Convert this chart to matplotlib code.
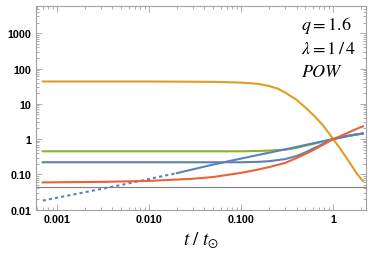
import matplotlib
matplotlib.use("Agg")
import matplotlib.pyplot as plt
from matplotlib.ticker import FixedLocator, LogLocator, NullFormatter

plt.rcParams['mathtext.fontset'] = 'stix'

# ---- data ----
t_orange = [0.0007, 0.01, 0.05, 0.1, 0.15, 0.2, 0.25, 0.3, 0.4, 0.5, 0.6, 0.7, 0.8, 0.9, 1.0, 1.2, 1.4, 1.6, 1.8, 2.1]
orange = [43, 43, 42, 40, 37, 32, 27, 21, 13, 7.8, 5.0, 3.3, 2.2, 1.45, 1.0, 0.52, 0.29, 0.17, 0.105, 0.065]

t_green = [0.0007, 0.1, 0.15, 0.2, 0.3, 0.4, 0.5, 0.6, 0.7, 0.8, 0.9, 1.0, 1.2, 1.4, 1.6, 1.8, 2.1]
green = [0.45, 0.45, 0.46, 0.47, 0.50, 0.56, 0.65, 0.72, 0.80, 0.87, 0.94, 1.0, 1.1, 1.2, 1.28, 1.35, 1.43]

t_blue = [0.0007, 0.1, 0.15, 0.2, 0.3, 0.4, 0.5, 0.6, 0.7, 0.8, 0.9, 1.0, 1.2, 1.4, 1.6, 1.8, 2.1]
blue = [0.22, 0.22, 0.225, 0.235, 0.27, 0.33, 0.42, 0.53, 0.64, 0.76, 0.88, 1.0, 1.12, 1.22, 1.3, 1.36, 1.43]

t_pow_dot = [0.0007, 0.002, 0.005, 0.01, 0.02]
pow_dot = [0.018, 0.031, 0.05, 0.074, 0.108]
t_pow = [0.02, 0.05, 0.1, 0.2, 0.3, 0.5, 0.7, 1.0, 1.4, 2.1]
pow_sol = [0.108, 0.19, 0.28, 0.41, 0.51, 0.68, 0.82, 1.0, 1.2, 1.45]

t_red = [0.0007, 0.003, 0.01, 0.03, 0.05, 0.1, 0.15, 0.2, 0.3, 0.4, 0.5, 0.6, 0.7, 0.8, 0.9, 1.0, 1.2, 1.4, 1.6, 1.8, 2.1]
red = [0.059, 0.061, 0.065, 0.075, 0.084, 0.11, 0.135, 0.16, 0.21, 0.29, 0.38, 0.48, 0.6, 0.72, 0.86, 1.0, 1.22, 1.45, 1.7, 1.95, 2.3]

hline_value = 0.045

x_ticks = [0.001, 0.01, 0.1, 1]
x_labels = ["0.001", "0.010", "0.100", "1"]
y_ticks = [0.01, 0.1, 1, 10, 100, 1000]
y_labels = ["0.01", "0.10", "1", "10", "100", "1000"]

annot = [r"$q=1.6$", r"$\lambda=1\,/\,4$", r"$POW$"]

# ---- colours ----
c_blue = "#5E81B5"
c_orange = "#E19C24"
c_green = "#8FB032"
c_red = "#EB6235"

fig = plt.figure(figsize=(3.74, 2.55), dpi=100)
ax = fig.add_axes([0.096, 0.173, 0.883, 0.800])
ax.set_xscale("log")
ax.set_yscale("log")

lw = 1.5
ax.axhline(hline_value, color="#808080", lw=0.8, zorder=1)
ax.plot(t_orange, orange, color=c_orange, lw=lw)
ax.plot(t_green, green, color=c_green, lw=lw)
ax.plot(t_blue, blue, color=c_blue, lw=lw)
ax.plot(t_pow_dot, pow_dot, color=c_blue, lw=lw, linestyle=(0, (1.5, 1.5)))
ax.plot(t_pow, pow_sol, color=c_blue, lw=lw)
ax.plot(t_red, red, color=c_red, lw=lw)

ax.set_xlim(0.00059, 2.28)
ax.set_ylim(0.0098, 6000)

ax.xaxis.set_major_locator(FixedLocator(x_ticks))
ax.set_xticklabels(x_labels)
ax.yaxis.set_major_locator(FixedLocator(y_ticks))
ax.set_yticklabels(y_labels)
ax.xaxis.set_minor_locator(LogLocator(base=10, subs=range(2, 10), numticks=20))
ax.yaxis.set_minor_locator(LogLocator(base=10, subs=range(2, 10), numticks=20))
ax.xaxis.set_minor_formatter(NullFormatter())
ax.yaxis.set_minor_formatter(NullFormatter())

for s in ax.spines.values():
    s.set_color("#a0a0a0")
    s.set_linewidth(0.8)
ax.tick_params(which="both", direction="in", top=True, right=True, color="#a0a0a0", width=0.6)
ax.tick_params(which="major", length=4, pad=3)
ax.tick_params(which="minor", length=2)
for lab in ax.get_xticklabels() + ax.get_yticklabels():
    lab.set_fontfamily("Liberation Sans")
    lab.set_fontweight("bold")
    lab.set_fontsize(7.7)

ax.set_xlabel(r"$t\ /\ t_{\odot}$", fontsize=13.5, labelpad=4)

for i, s in enumerate(annot):
    ax.text(301 / 374, 1 - (26 + 23 * i) / 255, s, transform=fig.transFigure,
            fontsize=13, ha="left", va="center")

fig.savefig("out.png", dpi=100)
